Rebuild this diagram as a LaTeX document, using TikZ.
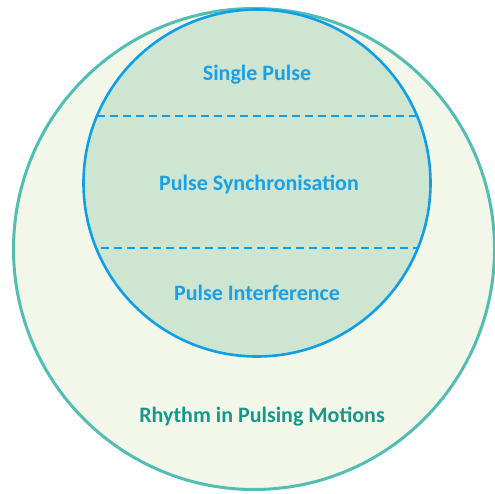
\documentclass[tikz,border=0pt]{standalone}
\usepackage{fontspec}
\setmainfont{Carlito}
\definecolor{outerfill}{HTML}{F3F7EA}
\definecolor{outerline}{HTML}{52BDB3}
\definecolor{innerfill}{HTML}{CEE5D1}
\definecolor{innerline}{HTML}{0E9FE8}
\definecolor{bluetext}{HTML}{1AA0E6}
\definecolor{tealtext}{HTML}{16998A}
\tikzset{
  lbl/.style={font=\bfseries\fontsize{22}{26}\selectfont, text=bluetext, inner sep=0pt},
  outerlbl/.style={font=\bfseries\fontsize{22}{26}\selectfont, text=tealtext, inner sep=0pt},
  divider/.style={draw=innerline, line width=2.8pt, dash pattern=on 8pt off 5pt}
}
\begin{document}
\begin{tikzpicture}[x=1pt,y=-1pt]
\useasboundingbox (0,0) rectangle (495,494);
\clip (0,0) rectangle (495,494);
\draw[fill=outerfill, draw=outerline, line width=3pt] (254,249) circle (240.5);
\draw[fill=innerfill, draw=innerline, line width=2.6pt] (257,183) circle (173.5);
\coordinate (d1l) at (97,116);
\coordinate (d1r) at (416,116);
\coordinate (d2l) at (101,248);
\coordinate (d2r) at (417,248);
\draw[divider] (d1l) -- (d1r);
\draw[divider] (d2l) -- (d2r);
\node[lbl] (single) at (257,74.5) {Single Pulse};
\node[lbl] (sync) at (259,184) {Pulse Synchronisation};
\node[lbl] (interf) at (257,292.5) {Pulse Interference};
\node[outerlbl] (rhythm) at (262,417) {Rhythm in Pulsing Motions};
\end{tikzpicture}
\end{document}
